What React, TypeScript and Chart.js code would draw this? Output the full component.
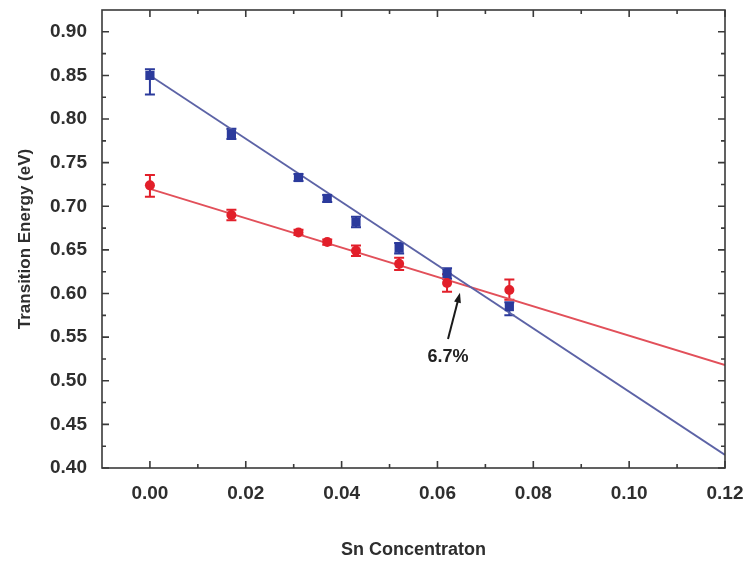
import { useEffect, useRef } from "react";
import { Chart, registerables } from "chart.js";

Chart.register(...registerables);

// Sn concentration of each measured sample
const concentration = [0, 0.017, 0.031, 0.037, 0.043, 0.052, 0.062, 0.075];

// Upper transition (blue squares) with asymmetric error bars
const energyUpper = [0.85, 0.783, 0.733, 0.709, 0.682, 0.652, 0.623, 0.585];
const upperErrPlus = [0.007, 0.006, 0.004, 0.004, 0.006, 0.006, 0.006, 0.005];
const upperErrMinus = [0.022, 0.006, 0.004, 0.004, 0.006, 0.006, 0.006, 0.01];

// Lower transition (red circles)
const energyLower = [0.724, 0.69, 0.67, 0.659, 0.649, 0.634, 0.612, 0.604];
const lowerErrPlus = [0.012, 0.006, 0.003, 0.003, 0.006, 0.007, 0.01, 0.012];
const lowerErrMinus = [0.013, 0.006, 0.003, 0.003, 0.006, 0.007, 0.01, 0.011];

// Linear fits, evaluated at the ends of the concentration range
const fitX = [0, 0.12];
const fitUpper = [0.85, 0.415];
const fitLower = [0.72, 0.518];

// Axis ticks
const xTicks = [0, 0.02, 0.04, 0.06, 0.08, 0.1, 0.12];
const xMinorTicks = [0.01, 0.03, 0.05, 0.07, 0.09, 0.11];
const yTicks = [0.4, 0.45, 0.5, 0.55, 0.6, 0.65, 0.7, 0.75, 0.8, 0.85, 0.9];
const yMinorTicks = [0.425, 0.475, 0.525, 0.575, 0.625, 0.675, 0.725, 0.775, 0.825, 0.875];

// Crossing annotation: label position, arrow tail and arrow tip (data units)
const crossingLabel = "6.7%";
const labelAt = [0.0622, 0.527];
const arrowFrom = [0.0622, 0.548];
const arrowTo = [0.0647, 0.601];

const FONT = "'Liberation Sans', Arial, sans-serif";
const BLUE = "#2b3a9c";
const BLUE_LINE = "#5c63a6";
const RED = "#e21f2a";
const RED_LINE = "#e2505a";
const FRAME = "#3a3a3a";
const TEXT = "#2e2e2e";

const errorBars = {
  id: "errorBars",
  beforeDatasetsDraw(chart: any) {
    const { ctx } = chart;
    const x = chart.scales.x;
    const y = chart.scales.y;
    chart.data.datasets.forEach((ds: any) => {
      if (!ds.errPlus) return;
      ctx.save();
      ctx.strokeStyle = ds.borderColor;
      ctx.lineWidth = 2;
      ds.data.forEach((p: any, j: number) => {
        const px = x.getPixelForValue(p.x);
        const top = y.getPixelForValue(p.y + ds.errPlus[j]);
        const bot = y.getPixelForValue(p.y - ds.errMinus[j]);
        const cap = 5;
        ctx.beginPath();
        ctx.moveTo(px, top);
        ctx.lineTo(px, bot);
        ctx.moveTo(px - cap, top);
        ctx.lineTo(px + cap, top);
        ctx.moveTo(px - cap, bot);
        ctx.lineTo(px + cap, bot);
        ctx.stroke();
      });
      ctx.restore();
    });
  },
};

const frameAndNotes = {
  id: "frameAndNotes",
  afterDraw(chart: any) {
    const { ctx, chartArea: a } = chart;
    const x = chart.scales.x;
    const y = chart.scales.y;
    ctx.save();
    ctx.strokeStyle = FRAME;
    ctx.lineWidth = 1.6;
    ctx.strokeRect(a.left, a.top, a.right - a.left, a.bottom - a.top);

    const tick = (v: number, len: number, horizontal: boolean) => {
      if (horizontal) {
        const px = x.getPixelForValue(v);
        ctx.moveTo(px, a.bottom);
        ctx.lineTo(px, a.bottom - len);
        ctx.moveTo(px, a.top);
        ctx.lineTo(px, a.top + len);
      } else {
        const py = y.getPixelForValue(v);
        ctx.moveTo(a.left, py);
        ctx.lineTo(a.left + len, py);
        ctx.moveTo(a.right, py);
        ctx.lineTo(a.right - len, py);
      }
    };
    ctx.beginPath();
    xTicks.forEach((v) => tick(v, 7, true));
    xMinorTicks.forEach((v) => tick(v, 4, true));
    yTicks.forEach((v) => tick(v, 7, false));
    yMinorTicks.forEach((v) => tick(v, 4, false));
    ctx.stroke();

    // arrow pointing at the crossing of the two fits
    const x0 = x.getPixelForValue(arrowFrom[0]);
    const y0 = y.getPixelForValue(arrowFrom[1]);
    const x1 = x.getPixelForValue(arrowTo[0]);
    const y1 = y.getPixelForValue(arrowTo[1]);
    const ang = Math.atan2(y1 - y0, x1 - x0);
    ctx.strokeStyle = "#1a1a1a";
    ctx.fillStyle = "#1a1a1a";
    ctx.lineWidth = 2;
    ctx.beginPath();
    ctx.moveTo(x0, y0);
    ctx.lineTo(x1 - 6 * Math.cos(ang), y1 - 6 * Math.sin(ang));
    ctx.stroke();
    ctx.beginPath();
    ctx.moveTo(x1, y1);
    ctx.lineTo(x1 - 10 * Math.cos(ang) + 3.5 * Math.sin(ang), y1 - 10 * Math.sin(ang) - 3.5 * Math.cos(ang));
    ctx.lineTo(x1 - 10 * Math.cos(ang) - 3.5 * Math.sin(ang), y1 - 10 * Math.sin(ang) + 3.5 * Math.cos(ang));
    ctx.closePath();
    ctx.fill();

    ctx.font = `bold 18px ${FONT}`;
    ctx.fillStyle = "#222";
    ctx.textAlign = "center";
    ctx.textBaseline = "middle";
    ctx.fillText(crossingLabel, x.getPixelForValue(labelAt[0]), y.getPixelForValue(labelAt[1]));
    ctx.restore();
  },
};

const noScalePadding = (s: any) => {
  s.paddingTop = 0;
  s.paddingBottom = 0;
  s.paddingLeft = 0;
  s.paddingRight = 0;
};

export default function App() {
  const canvasRef = useRef<HTMLCanvasElement | null>(null);

  useEffect(() => {
    const canvas = canvasRef.current;
    if (!canvas) return;

    const points = (ys: number[]) => concentration.map((c, i) => ({ x: c, y: ys[i] }));
    const line = (ys: number[]) => fitX.map((c, i) => ({ x: c, y: ys[i] }));

    const chart = new Chart(canvas, {
      type: "scatter",
      data: {
        datasets: [
          {
            type: "line",
            data: line(fitUpper),
            borderColor: BLUE_LINE,
            borderWidth: 1.8,
            pointRadius: 0,
            order: 3,
          },
          {
            type: "line",
            data: line(fitLower),
            borderColor: RED_LINE,
            borderWidth: 1.8,
            pointRadius: 0,
            order: 3,
          },
          {
            data: points(energyUpper),
            pointStyle: "rect",
            pointRadius: 6.5,
            backgroundColor: BLUE,
            borderColor: BLUE,
            borderWidth: 0,
            errPlus: upperErrPlus,
            errMinus: upperErrMinus,
            order: 1,
          } as any,
          {
            data: points(energyLower),
            pointStyle: "circle",
            pointRadius: 5,
            backgroundColor: RED,
            borderColor: RED,
            borderWidth: 0,
            errPlus: lowerErrPlus,
            errMinus: lowerErrMinus,
            order: 2,
          } as any,
        ],
      },
      options: {
        responsive: false,
        animation: false,
        layout: { padding: { top: 10, right: 25, left: 0, bottom: 0 } },
        plugins: {
          legend: { display: false },
          tooltip: { enabled: false },
        },
        scales: {
          x: {
            type: "linear",
            min: -0.01,
            max: 0.12,
            grid: { display: false, drawTicks: false },
            border: { display: false },
            afterBuildTicks: (s: any) => {
              s.ticks = xTicks.map((v) => ({ value: v }));
            },
            afterFit: (s: any) => {
              s.height = 95;
              noScalePadding(s);
            },
            ticks: {
              padding: 14,
              color: TEXT,
              font: { family: FONT, size: 19, weight: "bold" },
              maxRotation: 0,
              callback: (v: any) => Number(v).toFixed(2),
            },
            title: {
              display: true,
              text: "Sn Concentraton",
              color: TEXT,
              font: { family: FONT, size: 18, weight: "bold" },
              padding: { top: 0, bottom: 2 },
            },
          },
          y: {
            type: "linear",
            min: 0.4,
            max: 0.925,
            grid: { display: false, drawTicks: false },
            border: { display: false },
            afterBuildTicks: (s: any) => {
              s.ticks = yTicks.map((v) => ({ value: v }));
            },
            afterFit: (s: any) => {
              s.width = 102;
              noScalePadding(s);
            },
            ticks: {
              padding: 15,
              color: TEXT,
              font: { family: FONT, size: 19, weight: "bold" },
              callback: (v: any) => Number(v).toFixed(2),
            },
            title: {
              display: true,
              text: "Transition Energy (eV)",
              color: TEXT,
              font: { family: FONT, size: 17, weight: "bold" },
              padding: { top: 15, bottom: 0 },
            },
          },
        },
      },
      plugins: [errorBars, frameAndNotes],
    } as any);

    return () => chart.destroy();
  }, []);

  return (
    <div style={{ position: "fixed", left: 0, top: 0, width: 750, height: 563, background: "#fff" }}>
      <canvas ref={canvasRef} width={750} height={563} style={{ display: "block" }} />
    </div>
  );
}
